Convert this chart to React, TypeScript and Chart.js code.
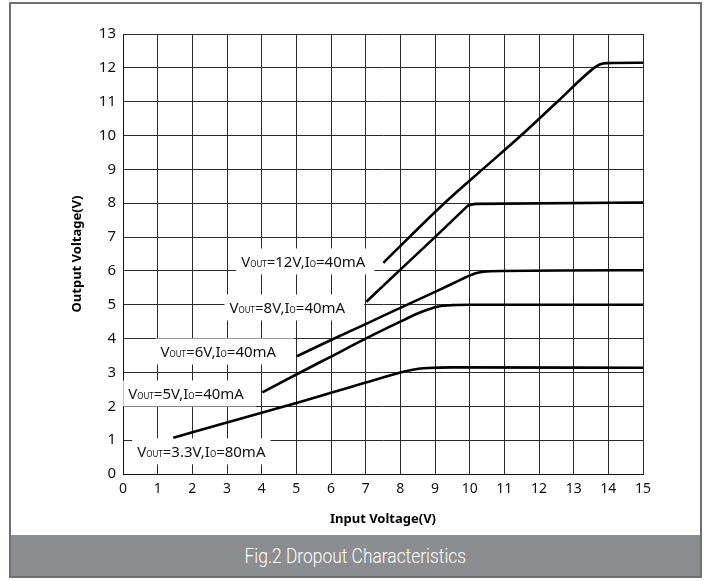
import { useEffect, useRef } from "react";
import { Chart, registerables } from "chart.js";

Chart.register(...registerables);

// ---- data ----
const X_MIN = 0;
const X_MAX = 15;
const Y_MIN = 0;
const Y_MAX = 13;

const v33X = [1.45, 2, 3, 4, 5, 6, 7, 8, 8.4, 8.8, 9.5, 15];
const v33Y = [1.07, 1.23, 1.52, 1.81, 2.1, 2.4, 2.7, 3.0, 3.09, 3.13, 3.15, 3.14];

const v5X = [4.02, 5, 6, 7, 8, 8.5, 8.8, 9.1, 9.5, 10, 15];
const v5Y = [2.41, 2.94, 3.47, 4.0, 4.5, 4.74, 4.86, 4.95, 4.99, 5.0, 5.0];

const v6X = [5.02, 6, 7, 8, 9, 9.5, 9.9, 10.2, 10.6, 15];
const v6Y = [3.48, 3.96, 4.43, 4.91, 5.38, 5.62, 5.82, 5.94, 5.99, 6.02];

const v8X = [7.02, 8, 9, 9.95, 10.15, 15];
const v8Y = [5.09, 6.04, 7.0, 7.93, 7.98, 8.02];

const v12X = [7.51, 8.26, 9.27, 10.37, 11.48, 12.53, 13.59, 13.75, 13.95, 15];
const v12Y = [6.24, 7, 8, 9, 10, 11, 12, 12.1, 12.14, 12.15];

const LABEL_VOUT = ["12V", "8V", "6V", "5V", "3.3V"];
const LABEL_IO = ["40mA", "40mA", "40mA", "40mA", "80mA"];

// label anchor (data units) and box right padding (px)
const LABEL_X = [5.2, 4.74, 2.75, 1.82, 2.26];
const LABEL_Y = [6.28, 4.92, 3.62, 2.38, 0.67];
const LABEL_PAD_R = [9, 19, 18, 12, 5];

const SERIES = [
  { name: "12V", xs: v12X, ys: v12Y, smooth: true },
  { name: "8V", xs: v8X, ys: v8Y, smooth: false },
  { name: "6V", xs: v6X, ys: v6Y, smooth: true },
  { name: "5V", xs: v5X, ys: v5Y, smooth: true },
  { name: "3.3V", xs: v33X, ys: v33Y, smooth: true },
];

const FONT = "'Noto Sans', sans-serif";

const labelPlugin = {
  id: "curveLabels",
  beforeDatasetsDraw(chart: any) {
    const { ctx, scales } = chart;
    const xs = scales.x;
    const ys = scales.y;
    ctx.save();
    LABEL_VOUT.forEach((vout, i) => {
      const parts = [
        { t: "V", sub: false },
        { t: "OUT", sub: true },
        { t: `=${vout},I`, sub: false },
        { t: "O", sub: true },
        { t: `=${LABEL_IO[i]}`, sub: false },
      ];
      const mainFont = `15px ${FONT}`;
      const subFont = `8px ${FONT}`;
      let total = 0;
      const widths = parts.map((p) => {
        ctx.font = p.sub ? subFont : mainFont;
        const w = ctx.measureText(p.t).width;
        total += w;
        return w;
      });
      const cx = xs.getPixelForValue(LABEL_X[i]);
      const cy = ys.getPixelForValue(LABEL_Y[i]);
      const left = cx - total / 2;
      ctx.fillStyle = "#ffffff";
      ctx.fillRect(left - 5, cy - 13, total + 5 + LABEL_PAD_R[i], 26);
      ctx.fillStyle = "#111111";
      ctx.textBaseline = "alphabetic";
      ctx.textAlign = "left";
      let px = left;
      parts.forEach((p, k) => {
        ctx.font = p.sub ? subFont : mainFont;
        ctx.fillText(p.t, px, cy + 5.5);
        px += widths[k];
      });
    });
    ctx.restore();
  },
};

export default function App() {
  const ref = useRef<HTMLCanvasElement | null>(null);

  useEffect(() => {
    if (!ref.current) return;
    const chart = new Chart(ref.current, {
      type: "line",
      data: {
        datasets: SERIES.map((s) => ({
          label: s.name,
          data: s.xs.map((x, i) => ({ x, y: s.ys[i] })),
          borderColor: "#000000",
          borderWidth: 2.6,
          pointRadius: 0,
          fill: false,
          tension: 0,
          cubicInterpolationMode: s.smooth ? ("monotone" as const) : ("default" as const),
        })),
      },
      options: {
        responsive: false,
        animation: false,
        devicePixelRatio: 1,
        layout: { padding: { left: 69, right: 67, top: 34, bottom: 0 } },
        plugins: {
          legend: { display: false },
          tooltip: { enabled: false },
        },
        scales: {
          x: {
            type: "linear",
            min: X_MIN,
            max: X_MAX,
            ticks: {
              stepSize: 1,
              padding: 7,
              color: "#111",
              autoSkip: false,
              maxRotation: 0,
              font: { family: FONT, size: 14 },
            },
            grid: { color: "#2a2a2a", lineWidth: 1, drawTicks: false },
            border: { color: "#111", width: 1 },
            title: {
              display: true,
              text: "Input Voltage(V)",
              color: "#000",
              font: { family: FONT, size: 13, weight: "bold" },
              padding: { top: 0, bottom: 7 },
            },
            afterFit(s: any) {
              s.height = 60;
            },
          },
          y: {
            type: "linear",
            min: Y_MIN,
            max: Y_MAX,
            ticks: {
              stepSize: 1,
              padding: 7,
              color: "#111",
              font: { family: FONT, size: 15 },
            },
            grid: { color: "#2a2a2a", lineWidth: 1, drawTicks: false },
            border: { color: "#111", width: 1 },
            title: {
              display: true,
              text: "Output Voltage(V)",
              color: "#000",
              font: { family: FONT, size: 13, weight: "bold" },
              padding: { top: 0, bottom: 0 },
            },
            afterFit(s: any) {
              s.width = 54;
            },
          },
        },
      },
      plugins: [labelPlugin],
    });
    return () => chart.destroy();
  }, []);

  return (
    <div style={{ position: "fixed", left: 0, top: 0, width: 710, height: 581, background: "#fff" }}>
      <div
        style={{
          position: "absolute",
          left: 9,
          top: 2,
          width: 689,
          height: 572,
          border: "2px solid #707070",
        }}
      />
      <div
        style={{
          position: "absolute",
          left: 11,
          top: 535,
          width: 689,
          height: 41,
          background: "#8c8d90",
          color: "#ffffff",
          display: "flex",
          alignItems: "center",
          justifyContent: "center",
          fontFamily: "Roboto, sans-serif",
          fontWeight: 300,
          fontSize: 20,
        }}
      >
        <span style={{ display: "inline-block", transform: "scaleX(0.87)" }}>
          Fig.2 Dropout Characteristics
        </span>
      </div>
      <div style={{ position: "absolute", left: 0, top: 0 }}>
        <canvas ref={ref} width={710} height={534} style={{ display: "block" }} />
      </div>
    </div>
  );
}
